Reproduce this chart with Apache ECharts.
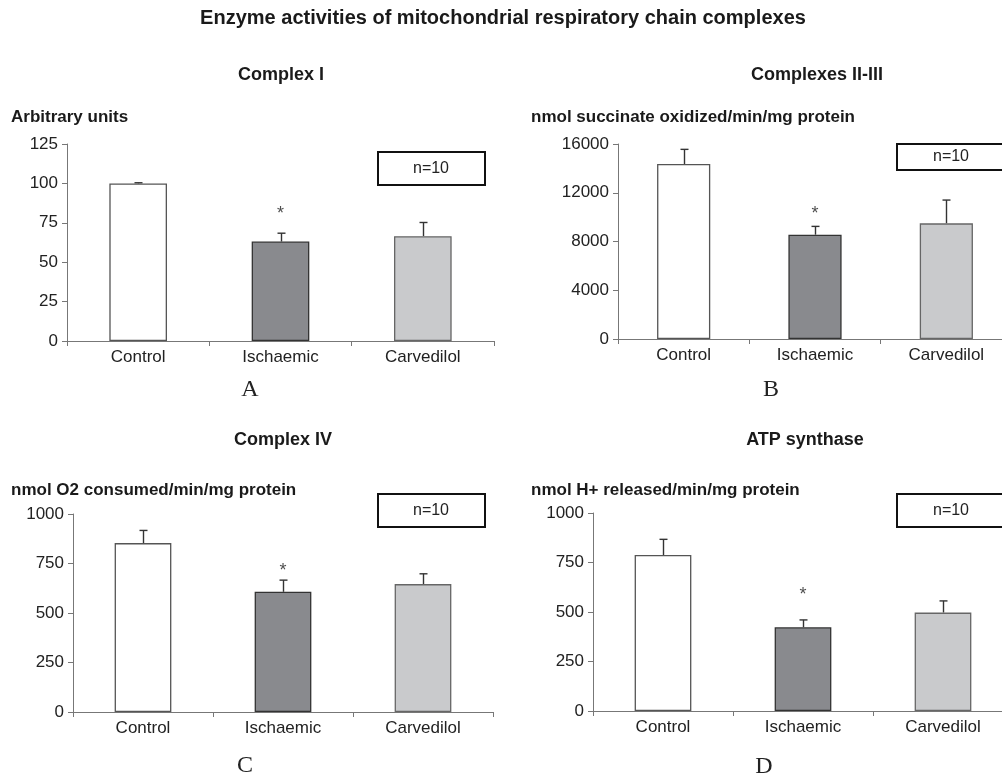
<!DOCTYPE html>
<html>
<head>
<meta charset="utf-8">
<script src="https://cdn.jsdelivr.net/npm/echarts@6/dist/echarts.min.js"></script>
<style>html,body{margin:0;padding:0;background:#fff}#c{width:1002px;height:779px}</style>
</head>
<body>
<div id="c"></div>
<script>
// ---------- DATA ----------
const mainTitle = 'Enzyme activities of mitochondrial respiratory chain complexes';
const categories = ['Control', 'Ischaemic', 'Carvedilol'];
const panelTitles = ['Complex I', 'Complexes II-III', 'Complex IV', 'ATP synthase'];
const axisNames = ['Arbitrary units', 'nmol succinate oxidized/min/mg protein', 'nmol O2 consumed/min/mg protein', 'nmol H+ released/min/mg protein'];
const panelLetters = ['A', 'B', 'C', 'D'];
const nLabel = 'n=10';

const meansA = [100, 63.1, 66.5];
const errTopA = [100.4, 68.4, 75.2];
const meansB = [14360, 8560, 9490];
const errTopB = [15560, 9240, 11400];
const meansC = [853, 607, 646];
const errTopC = [917, 666, 698];
const meansD = [788, 423, 497];
const errTopD = [867, 460, 556];
// asterisk (significance) positions above Ischaemic bar, in axis units
const starA = 83;
const starB = 10610;
const starC = 730;
const starD = 608;

const yMaxes = [125, 16000, 1000, 1000];
const yIntervals = [25, 4000, 250, 250];

// ---------- LAYOUT / STYLE ----------
const grids = [
  {left: 67, top: 144, width: 427, height: 197},
  {left: 618, top: 144, width: 394, height: 195},
  {left: 73, top: 514, width: 420, height: 198},
  {left: 593, top: 513, width: 420, height: 198}
];
const barFills = ['#ffffff', '#898a8e', '#c9cacc'];
const barBorders = ['#555555', '#333333', '#666666'];
const sansFont = '"Liberation Sans", Arial, Helvetica, sans-serif';
const serifFont = '"Liberation Serif", "Times New Roman", serif';

const means = [meansA, meansB, meansC, meansD];
const errTops = [errTopA, errTopB, errTopC, errTopD];
const stars = [starA, starB, starC, starD];

const titlePos = [[281, 75], [817, 75], [283, 440], [805, 440]];
const axisNamePos = [[11, 117], [531, 117], [11, 490], [531, 490]];
const letterPos = [[250, 390], [771, 390], [245, 766], [764, 767]];
const boxes = [
  {x: 378, y: 152, w: 107, h: 33},
  {x: 897, y: 144, w: 120, h: 26},
  {x: 378, y: 494, w: 107, h: 33},
  {x: 897, y: 494, w: 120, h: 33}
];
const boxTextX = [431, 951, 431, 951];

const xAxes = [], yAxes = [], series = [];
grids.forEach((g, i) => {
  xAxes.push({
    type: 'category', gridIndex: i, data: categories,
    boundaryGap: true,
    axisLine: {lineStyle: {color: '#777', width: 1}},
    axisTick: {show: true, length: 5, alignWithLabel: false, lineStyle: {color: '#777'}},
    axisLabel: {color: '#222', fontSize: 17, fontFamily: sansFont, margin: 8}
  });
  yAxes.push({
    type: 'value', gridIndex: i, min: 0, max: yMaxes[i], interval: yIntervals[i],
    axisLine: {show: true, lineStyle: {color: '#777', width: 1}},
    axisTick: {show: true, length: 5, lineStyle: {color: '#777'}},
    splitLine: {show: false},
    axisLabel: {color: '#222', fontSize: 17, fontFamily: sansFont, margin: 9, formatter: v => String(v)}
  });
  series.push({
    type: 'bar', xAxisIndex: i, yAxisIndex: i, barWidth: '40.5%',
    data: means[i].map((v, k) => ({value: v, itemStyle: {color: barFills[k], borderColor: barBorders[k], borderWidth: 1.3}})),
    silent: true, animation: false
  });
  series.push({
    type: 'custom', xAxisIndex: i, yAxisIndex: i, animation: false, silent: true,
    data: means[i].map((v, k) => [k, v, errTops[i][k]]),
    renderItem: function (params, api) {
      const base = api.coord([api.value(0), api.value(1)]);
      const top = api.coord([api.value(0), api.value(2)]);
      const cx = Math.round(base[0]) + 0.5;
      const st = {stroke: '#333', lineWidth: 1.4};
      return {type: 'group', children: [
        {type: 'line', shape: {x1: cx, y1: base[1], x2: cx, y2: top[1]}, style: st},
        {type: 'line', shape: {x1: cx - 4, y1: top[1], x2: cx + 4, y2: top[1]}, style: st}
      ]};
    }
  });
  series.push({
    type: 'scatter', xAxisIndex: i, yAxisIndex: i, symbolSize: 0, animation: false, silent: true,
    data: [[1, stars[i]]],
    label: {show: true, formatter: '*', position: 'inside', offset: [0, 4], color: '#222', fontSize: 18, fontFamily: sansFont}
  });
});

const graphic = [];
graphic.push({type: 'text', x: 503, y: 18, style: {text: mainTitle, font: 'bold 20px ' + sansFont, fill: '#1a1a1a', textAlign: 'center', textVerticalAlign: 'middle', align: 'center', verticalAlign: 'middle'}});
panelTitles.forEach((t, i) => {
  graphic.push({type: 'text', x: titlePos[i][0], y: titlePos[i][1], style: {text: t, font: 'bold 18px ' + sansFont, fill: '#1a1a1a', textAlign: 'center', textVerticalAlign: 'middle', align: 'center', verticalAlign: 'middle'}});
  graphic.push({type: 'text', x: axisNamePos[i][0], y: axisNamePos[i][1], style: {text: axisNames[i], font: 'bold 17px ' + sansFont, fill: '#1a1a1a', textAlign: 'left', textVerticalAlign: 'middle', align: 'left', verticalAlign: 'middle'}});
  graphic.push({type: 'text', x: letterPos[i][0], y: letterPos[i][1], style: {text: panelLetters[i], font: '24px ' + serifFont, fill: '#222', textAlign: 'center', textVerticalAlign: 'middle', align: 'center', verticalAlign: 'middle'}});
  const b = boxes[i];
  graphic.push({type: 'rect', shape: {x: b.x, y: b.y, width: b.w, height: b.h}, style: {fill: '#fff', stroke: '#111', lineWidth: 2}});
  graphic.push({type: 'text', x: boxTextX[i], y: b.y + b.h / 2, style: {text: nLabel, font: '16px ' + sansFont, fill: '#222', textAlign: 'center', textVerticalAlign: 'middle', align: 'center', verticalAlign: 'middle'}});
});

const chart = echarts.init(document.getElementById('c'), null, {renderer: 'canvas'});
chart.setOption({
  backgroundColor: '#fff',
  animation: false,
  grid: grids.map(g => Object.assign({containLabel: false, outerBoundsMode: 'none'}, g)),
  xAxis: xAxes,
  yAxis: yAxes,
  series: series,
  graphic: graphic
});
</script>
</body>
</html>
